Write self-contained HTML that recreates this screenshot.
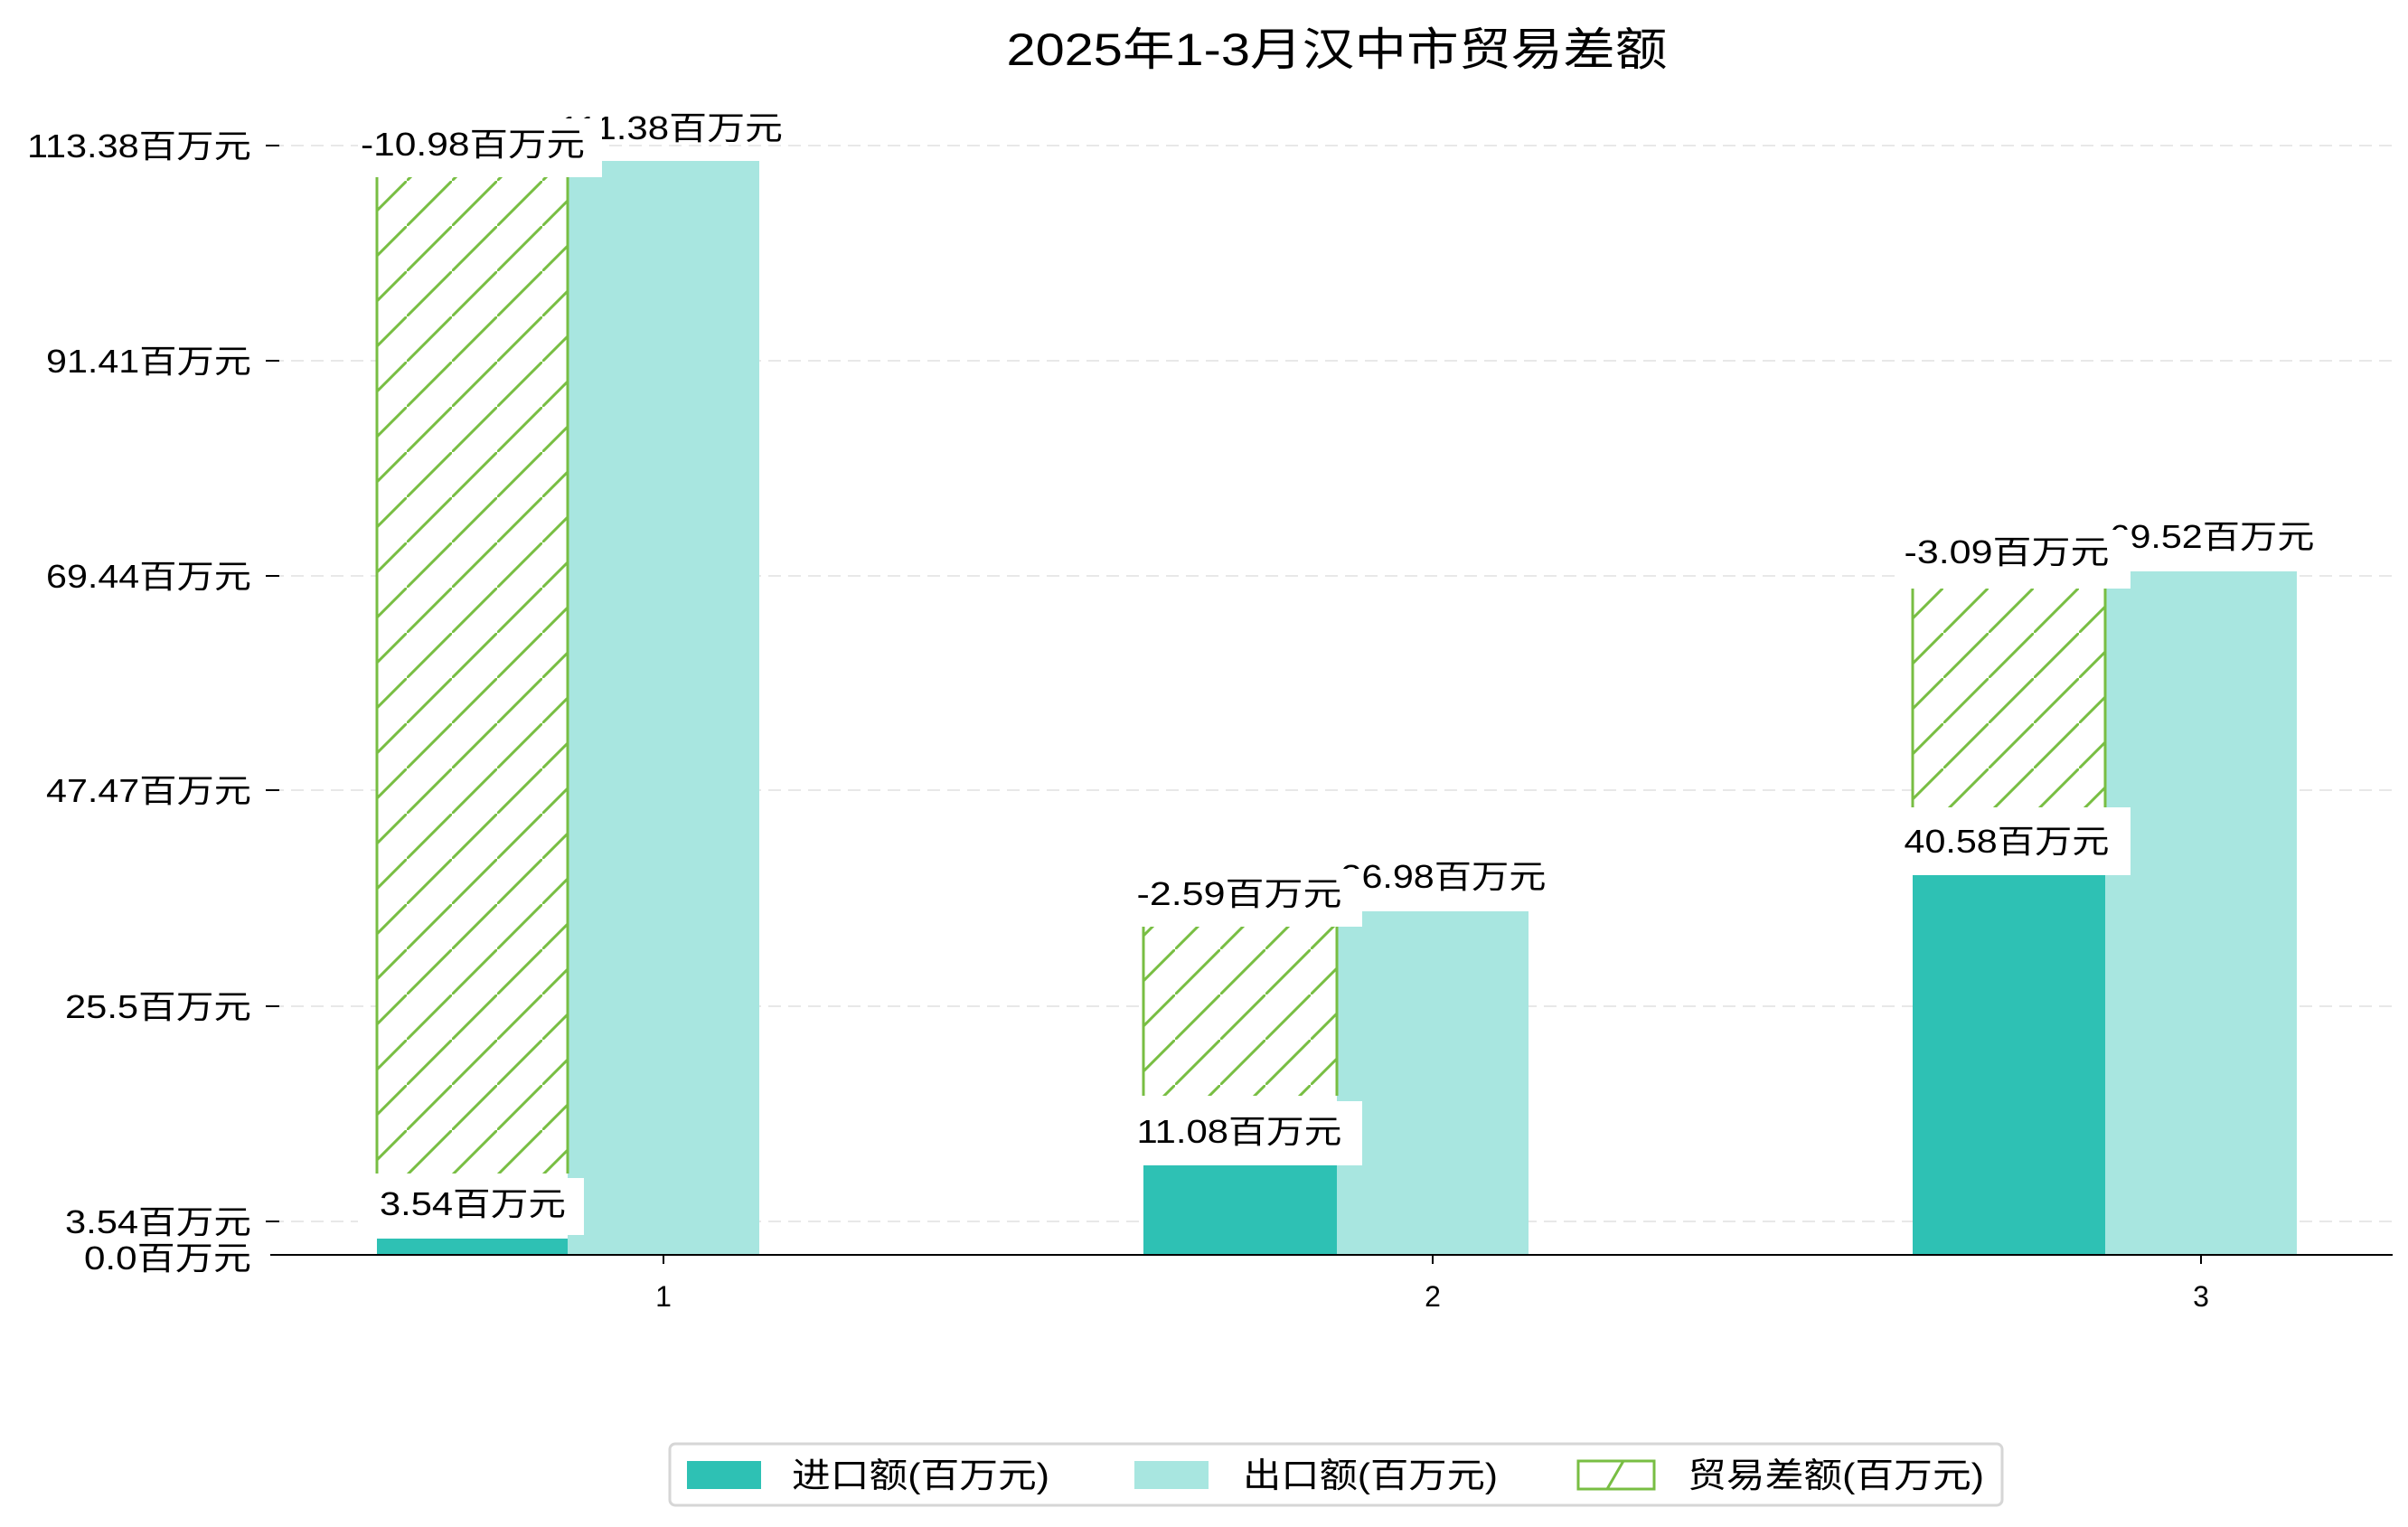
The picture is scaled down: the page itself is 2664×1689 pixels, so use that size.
<!DOCTYPE html>
<html><head><meta charset="utf-8"><style>
html,body{margin:0;padding:0;background:#fff;}
svg{display:block;}
text{font-family:"Liberation Sans","Noto Sans CJK SC",sans-serif;fill:#000;}
</style></head><body>
<svg width="2664" height="1689" viewBox="0 0 2664 1689" xmlns="http://www.w3.org/2000/svg">
<defs>
<pattern id="h" patternUnits="userSpaceOnUse" width="50" height="50">
<line x1="-5" y1="55" x2="55" y2="-5" stroke="#78be43" stroke-width="3"/>
</pattern>
</defs>
<text x="1479" y="72" font-size="50" text-anchor="middle" textLength="731" lengthAdjust="spacingAndGlyphs">2025年1-3月汉中市贸易差额</text>
<g stroke="#e8e8e8" stroke-width="2" stroke-dasharray="14,8">
<line x1="300" y1="161" x2="2647" y2="161"/>
<line x1="300" y1="399" x2="2647" y2="399"/>
<line x1="300" y1="637" x2="2647" y2="637"/>
<line x1="300" y1="874" x2="2647" y2="874"/>
<line x1="300" y1="1113" x2="2647" y2="1113"/>
<line x1="300" y1="1351" x2="2647" y2="1351"/>
</g>
<g stroke="#000" stroke-width="2">
<line x1="294" y1="161" x2="309" y2="161"/>
<line x1="294" y1="399" x2="309" y2="399"/>
<line x1="294" y1="637" x2="309" y2="637"/>
<line x1="294" y1="874" x2="309" y2="874"/>
<line x1="294" y1="1113" x2="309" y2="1113"/>
<line x1="294" y1="1351" x2="309" y2="1351"/>
<line x1="734" y1="1388" x2="734" y2="1398"/>
<line x1="1585" y1="1388" x2="1585" y2="1398"/>
<line x1="2435" y1="1388" x2="2435" y2="1398"/>
</g>
<g font-size="36" text-anchor="end">
<text x="278" y="174" textLength="248" lengthAdjust="spacingAndGlyphs">113.38百万元</text>
<text x="278" y="412" textLength="227" lengthAdjust="spacingAndGlyphs">91.41百万元</text>
<text x="278" y="650" textLength="227" lengthAdjust="spacingAndGlyphs">69.44百万元</text>
<text x="278" y="887" textLength="227" lengthAdjust="spacingAndGlyphs">47.47百万元</text>
<text x="278" y="1126" textLength="206" lengthAdjust="spacingAndGlyphs">25.5百万元</text>
<text x="278" y="1364" textLength="206" lengthAdjust="spacingAndGlyphs">3.54百万元</text>
<text x="278" y="1404" textLength="185" lengthAdjust="spacingAndGlyphs">0.0百万元</text>
</g>
<g font-size="32" text-anchor="middle">
<text x="734" y="1445">1</text>
<text x="1585" y="1445">2</text>
<text x="2435" y="1445">3</text>
</g>
<rect x="417" y="1370" width="211" height="18" fill="#2ec1b4"/>
<rect x="628" y="178" width="212" height="1210" fill="#a8e6e0"/>
<rect x="1265" y="1289" width="214" height="99" fill="#2ec1b4"/>
<rect x="1479" y="1008" width="212" height="380" fill="#a8e6e0"/>
<rect x="2116" y="968" width="213" height="420" fill="#2ec1b4"/>
<rect x="2329" y="632" width="212" height="756" fill="#a8e6e0"/>
<rect x="417" y="196" width="211" height="1102" fill="#fff"/>
<rect x="417" y="196" width="211" height="1102" fill="url(#h)"/>
<line x1="417" y1="196" x2="417" y2="1298" stroke="#78be43" stroke-width="3"/>
<line x1="628" y1="196" x2="628" y2="1298" stroke="#78be43" stroke-width="3"/>
<rect x="1265" y="1025" width="214" height="187" fill="#fff"/>
<rect x="1265" y="1025" width="214" height="187" fill="url(#h)"/>
<line x1="1265" y1="1025" x2="1265" y2="1212" stroke="#78be43" stroke-width="3"/>
<line x1="1479" y1="1025" x2="1479" y2="1212" stroke="#78be43" stroke-width="3"/>
<rect x="2116" y="651" width="213" height="242" fill="#fff"/>
<rect x="2116" y="651" width="213" height="242" fill="url(#h)"/>
<line x1="2116" y1="651" x2="2116" y2="893" stroke="#78be43" stroke-width="3"/>
<line x1="2329" y1="651" x2="2329" y2="893" stroke="#78be43" stroke-width="3"/>
<line x1="299" y1="1388" x2="2647" y2="1388" stroke="#000" stroke-width="2"/>
<g font-size="36" text-anchor="middle">
<text x="742" y="154" textLength="248" lengthAdjust="spacingAndGlyphs">111.38百万元</text>
<rect x="396" y="131" width="270" height="65" fill="#fff"/>
<text x="523" y="172" textLength="248" lengthAdjust="spacingAndGlyphs">-10.98百万元</text>
<rect x="396" y="1303" width="250" height="63" fill="#fff"/>
<text x="523" y="1344" textLength="206" lengthAdjust="spacingAndGlyphs">3.54百万元</text>

<text x="1597" y="982" textLength="227" lengthAdjust="spacingAndGlyphs">36.98百万元</text>
<rect x="1247" y="961" width="260" height="64" fill="#fff"/>
<text x="1371" y="1001" textLength="227" lengthAdjust="spacingAndGlyphs">-2.59百万元</text>
<rect x="1247" y="1218" width="260" height="71" fill="#fff"/>
<text x="1371" y="1264" textLength="227" lengthAdjust="spacingAndGlyphs">11.08百万元</text>

<text x="2447" y="606" textLength="227" lengthAdjust="spacingAndGlyphs">69.52百万元</text>
<rect x="2097" y="586" width="260" height="65" fill="#fff"/>
<text x="2220" y="623" textLength="227" lengthAdjust="spacingAndGlyphs">-3.09百万元</text>
<rect x="2097" y="893" width="260" height="75" fill="#fff"/>
<text x="2220" y="943" textLength="227" lengthAdjust="spacingAndGlyphs">40.58百万元</text>
</g>
<rect x="741" y="1597" width="1474" height="68" rx="6" fill="#fff" stroke="#d6d6d6" stroke-width="3"/>
<rect x="760" y="1616" width="82" height="31" fill="#2ec1b4"/>
<rect x="1255" y="1616" width="82" height="31" fill="#a8e6e0"/>
<rect x="1746" y="1616" width="84" height="31" fill="#fff" stroke="#78be43" stroke-width="3"/>
<line x1="1778" y1="1647" x2="1796" y2="1616" stroke="#78be43" stroke-width="3"/>
<g font-size="38">
<text x="876" y="1645" textLength="285" lengthAdjust="spacingAndGlyphs">进口额(百万元)</text>
<text x="1375" y="1645" textLength="282" lengthAdjust="spacingAndGlyphs">出口额(百万元)</text>
<text x="1867" y="1645" textLength="328" lengthAdjust="spacingAndGlyphs">贸易差额(百万元)</text>
</g>
</svg>
</body></html>
